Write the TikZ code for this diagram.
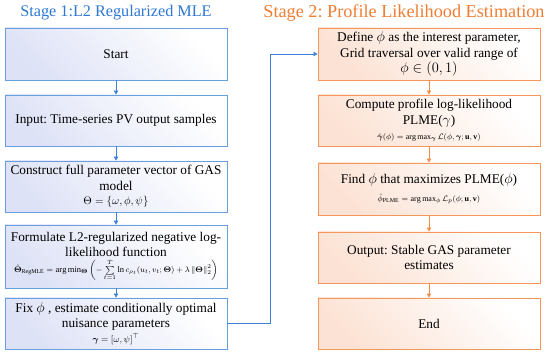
\documentclass[tikz,border=0pt]{standalone}
\usepackage{amsmath,amssymb}
\usepackage{fontspec}
\setmainfont{Liberation Serif}
\usetikzlibrary{arrows.meta}
\definecolor{bline}{RGB}{105,158,225}
\definecolor{bfill}{RGB}{222,226,246}
\definecolor{oline}{RGB}{245,150,90}
\definecolor{ofill}{RGB}{252,226,212}
\definecolor{btitle}{RGB}{45,120,210}
\definecolor{otitle}{RGB}{240,125,50}
\definecolor{barrow}{RGB}{60,130,215}
\definecolor{oarrow}{RGB}{245,140,70}
\frenchspacing
\tikzset{
  box/.style={draw, line width=0.9pt, minimum width=222pt, inner sep=2pt,
    align=center, font=\fontsize{13.3}{15.5}\selectfont},
  bbox/.style={box, draw=bline, left color=bfill, right color=white, shading angle=135},
  obox/.style={box, draw=oline, left color=ofill, right color=white, shading angle=135},
  barr/.style={draw=barrow, line width=0.8pt, -{Triangle[length=4pt,width=4.5pt]}},
  oarr/.style={draw=oarrow, line width=0.8pt, -{Triangle[length=4pt,width=4.5pt]}},
  ttl/.style={inner sep=0pt},
}
\begin{document}
\begin{tikzpicture}[x=1pt,y=1pt]
\useasboundingbox (0,0) rectangle (550,-355);
\node[ttl, text=btitle, font=\fontsize{16.2}{20}\selectfont] (t1) at (116,-13) {Stage 1:L2 Regularized MLE};
\node[ttl, text=otitle, font=\fontsize{18.2}{20}\selectfont] (t2) at (404,-13) {Stage 2: Profile Likelihood Estimation};

\node[bbox, minimum height=52pt] (L1) at (116,-54) {Start};
\node[bbox, minimum height=51pt] (L2) at (116,-120.5) {Input: Time-series PV output samples};
\node[bbox, minimum height=51pt] (L3) at (116,-186.5) {Construct full parameter vector of GAS\\model\\[-1pt]{\fontsize{10.5}{13}\selectfont$\Theta=\{\omega,\phi,\psi\}$}};
\node[bbox, minimum height=63pt] (L4) at (116,-256.5) {Formulate L2-regularized negative log-\\likelihood function\\[0pt]
{\fontsize{8.5}{10}\selectfont$\hat{\boldsymbol\Theta}_{\mathrm{RegMLE}}=\arg\min_{\boldsymbol\Theta}\left(-\sum\limits_{t=1}^{T}\ln c_{\rho_t}(u_t,v_t;\boldsymbol\Theta)+\lambda\left\|\boldsymbol\Theta\right\|_2^2\right)$}};
\node[bbox, minimum height=51pt] (L5) at (116,-323.5) {Fix $\phi$ , estimate conditionally optimal\\nuisance parameters\\[-1pt]{\fontsize{9.5}{12}\selectfont$\boldsymbol\gamma=[\omega,\psi]^{\top}$}};

\node[obox, minimum height=52pt] (R1) at (429,-54) {Define $\phi$ as the interest parameter,\\Grid traversal over valid range of\\$\phi\in(0,1)$};
\node[obox, minimum height=51pt] (R2) at (429,-120.5) {Compute profile log-likelihood\\PLME($\gamma$)\\[0pt]{\fontsize{8}{10}\selectfont$\hat{\boldsymbol\gamma}(\phi)=\arg\max_{\boldsymbol\gamma}\mathcal{L}(\phi,\boldsymbol\gamma;\mathbf{u},\mathbf{v})$}};
\node[obox, minimum height=52pt] (R3) at (429,-189) {Find $\phi$ that maximizes PLME($\phi$)\\[2pt]{\fontsize{8}{10}\selectfont$\hat{\phi}_{\mathrm{PLME}}=\arg\max_{\phi}\mathcal{L}_p(\phi;\mathbf{u},\mathbf{v})$}};
\node[obox, minimum height=51pt] (R4) at (429,-257.5) {Output: Stable GAS parameter\\estimates};
\node[obox, minimum height=51pt] (R5) at (429,-323.5) {End};

\draw[barr] (L1) -- (L2);
\draw[barr] (L2) -- (L3);
\draw[barr] (L3) -- (L4);
\draw[barr] (L4) -- (L5);
\draw[barr] (L5.east) -- ++(43,0) |- (R1.west);
\draw[oarr] (R1) -- (R2);
\draw[oarr] (R2) -- (R3);
\draw[oarr] (R3) -- (R4);
\draw[oarr] (R4) -- (R5);
\end{tikzpicture}
\end{document}
